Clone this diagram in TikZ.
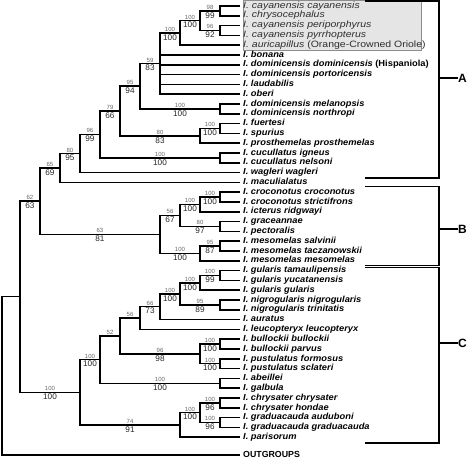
\documentclass[tikz,border=0pt]{standalone}
\usepackage{fontspec}
\setmainfont{Liberation Sans}
\newfontfamily\leaffont[FakeStretch=1.06]{Liberation Sans}
\newfontfamily\boxfont[FakeStretch=1.14]{Liberation Sans}
\usetikzlibrary{calc}
\tikzset{
  br/.style={line width=1.5pt, line join=miter},
  leaf/.style={anchor=west, inner xsep=3pt, inner ysep=0pt, text height=6.3pt, text depth=1.9pt,
    font=\leaffont\fontsize{8.8}{9}\selectfont\bfseries\itshape},
  boxleaf/.style={leaf, font=\boxfont\fontsize{9.2}{9}\selectfont\itshape, text=black!82},
  bsup/.style={font=\fontsize{6}{6}\selectfont, text=black!60, inner sep=0.7pt},
  bsdn/.style={font=\fontsize{8.2}{8}\selectfont, text=black!85, inner sep=0.7pt},
  cladelab/.style={anchor=west, inner sep=0pt, font=\fontsize{12}{12}\selectfont\bfseries},
  hlbox/.style={fill=black!10, draw=black!45, line width=0.8pt},
}
\newcommand\myedge[4]{\draw[br] (#1) |- node[pos=.75,above,bsup]{#3} node[pos=.75,below,bsdn]{#4} (#2);}
\begin{document}
\begin{tikzpicture}[x=1pt,y=-1pt]
\useasboundingbox (0,0) rectangle (474,462);
% highlight box
\coordinate (bx1) at (243,0.5);
\coordinate (bx2) at (421,50);
\draw[hlbox] (bx1) rectangle (bx2);
% leaves
\node[boxleaf] (l0) at (240,6.0) {I. cayanensis cayanensis};
\node[boxleaf] (l1) at (240,15.8) {I. chrysocephalus};
\node[boxleaf] (l2) at (240,25.6) {I. cayanensis periporphyrus};
\node[boxleaf] (l3) at (240,35.4) {I. cayanensis pyrrhopterus};
\node[boxleaf] (l4) at (240,45.2) {I. auricapillus \upshape(Orange-Crowned Oriole)};
\node[leaf] (l5) at (240,55.0) {I. bonana};
\node[leaf] (l6) at (240,64.8) {I. dominicensis dominicensis \upshape(Hispaniola)};
\node[leaf] (l7) at (240,74.6) {I. dominicensis portoricensis};
\node[leaf] (l8) at (240,84.4) {I. laudabilis};
\node[leaf] (l9) at (240,94.2) {I. oberi};
\node[leaf] (l10) at (240,104.0) {I. dominicensis melanopsis};
\node[leaf] (l11) at (240,113.8) {I. dominicensis northropi};
\node[leaf] (l12) at (240,123.6) {I. fuertesi};
\node[leaf] (l13) at (240,133.4) {I. spurius};
\node[leaf] (l14) at (240,143.2) {I. prosthemelas prosthemelas};
\node[leaf] (l15) at (240,153.0) {I. cucullatus igneus};
\node[leaf] (l16) at (240,162.8) {I. cucullatus nelsoni};
\node[leaf] (l17) at (240,172.6) {I. wagleri wagleri};
\node[leaf] (l18) at (240,182.4) {I. maculialatus};
\node[leaf] (l19) at (240,192.2) {I. croconotus croconotus};
\node[leaf] (l20) at (240,202.0) {I. croconotus strictifrons};
\node[leaf] (l21) at (240,211.8) {I. icterus ridgwayi};
\node[leaf] (l22) at (240,221.6) {I. graceannae};
\node[leaf] (l23) at (240,231.4) {I. pectoralis};
\node[leaf] (l24) at (240,241.2) {I. mesomelas salvinii};
\node[leaf] (l25) at (240,251.0) {I. mesomelas taczanowskii};
\node[leaf] (l26) at (240,260.8) {I. mesomelas mesomelas};
\node[leaf] (l27) at (240,270.6) {I. gularis tamaulipensis};
\node[leaf] (l28) at (240,280.4) {I. gularis yucatanensis};
\node[leaf] (l29) at (240,290.2) {I. gularis gularis};
\node[leaf] (l30) at (240,300.0) {I. nigrogularis nigrogularis};
\node[leaf] (l31) at (240,309.8) {I. nigrogularis trinitatis};
\node[leaf] (l32) at (240,319.6) {I. auratus};
\node[leaf] (l33) at (240,329.4) {I. leucopteryx leucopteryx};
\node[leaf] (l34) at (240,339.2) {I. bullockii bullockii};
\node[leaf] (l35) at (240,349.0) {I. bullockii parvus};
\node[leaf] (l36) at (240,358.8) {I. pustulatus formosus};
\node[leaf] (l37) at (240,368.6) {I. pustulatus sclateri};
\node[leaf] (l38) at (240,378.4) {I. abeillei};
\node[leaf] (l39) at (240,388.2) {I. galbula};
\node[leaf] (l40) at (240,398.0) {I. chrysater chrysater};
\node[leaf] (l41) at (240,407.8) {I. chrysater hondae};
\node[leaf] (l42) at (240,417.6) {I. graduacauda auduboni};
\node[leaf] (l43) at (240,427.4) {I. graduacauda graduacauda};
\node[leaf] (l44) at (240,437.2) {I. parisorum};
\node[leaf, font=\fontsize{8.8}{9}\selectfont\bfseries] (og) at (240,455.0) {OUTGROUPS};
% internal nodes
\coordinate (n1) at (220,10.9);
\coordinate (n2) at (220,30.5);
\coordinate (n3) at (200,20.7);
\coordinate (n4) at (180,32.95);
\coordinate (n5) at (160,63.58);
\coordinate (n6) at (220,108.9);
\coordinate (n7) at (140,86.24);
\coordinate (n8) at (220,128.5);
\coordinate (n9) at (200,135.85);
\coordinate (n10) at (120,111.04);
\coordinate (n11) at (220,157.9);
\coordinate (n12) at (100,134.47);
\coordinate (n13) at (80,153.54);
\coordinate (n14) at (60,167.97);
\coordinate (n15) at (220,197.1);
\coordinate (n16) at (200,204.45);
\coordinate (n17) at (220,226.5);
\coordinate (n18) at (180,215.48);
\coordinate (n19) at (220,246.1);
\coordinate (n20) at (200,253.45);
\coordinate (n21) at (160,234.46);
\coordinate (n22) at (40,201.2);
\coordinate (n23) at (220,275.5);
\coordinate (n24) at (200,282.85);
\coordinate (n25) at (220,304.9);
\coordinate (n26) at (180,293.88);
\coordinate (n27) at (160,306.74);
\coordinate (n28) at (140,318.07);
\coordinate (n29) at (220,344.1);
\coordinate (n30) at (220,363.7);
\coordinate (n31) at (200,353.9);
\coordinate (n32) at (120,335.99);
\coordinate (n33) at (220,383.3);
\coordinate (n34) at (100,359.64);
\coordinate (n35) at (220,402.9);
\coordinate (n36) at (220,422.5);
\coordinate (n37) at (200,412.7);
\coordinate (n38) at (180,424.95);
\coordinate (n39) at (80,392.3);
\coordinate (n40) at (20,296.75);
\coordinate (root) at (2,455.0);
% leaf branches
\foreach \p/\c in {n1/l0,n1/l1,n2/l2,n2/l3,n4/l4,n5/l5,n5/l6,n5/l7,n5/l8,n5/l9,
  n6/l10,n6/l11,n8/l12,n8/l13,n9/l14,n11/l15,n11/l16,n13/l17,n14/l18,
  n15/l19,n15/l20,n16/l21,n17/l22,n17/l23,n19/l24,n19/l25,n20/l26,
  n23/l27,n23/l28,n24/l29,n25/l30,n25/l31,n27/l32,n28/l33,
  n29/l34,n29/l35,n30/l36,n30/l37,n33/l38,n33/l39,
  n35/l40,n35/l41,n36/l42,n36/l43,n38/l44}
  {\draw[br] (\p) |- (\c.west);}
% internal branches with support values
\myedge{n3}{n1}{98}{99}
\myedge{n3}{n2}{96}{92}
\myedge{n4}{n3}{100}{100}
\myedge{n5}{n4}{100}{100}
\myedge{n7}{n5}{59}{83}
\myedge{n7}{n6}{100}{100}
\myedge{n10}{n7}{95}{94}
\myedge{n9}{n8}{100}{100}
\myedge{n10}{n9}{80}{83}
\myedge{n12}{n10}{79}{66}
\myedge{n12}{n11}{100}{100}
\myedge{n13}{n12}{96}{99}
\myedge{n14}{n13}{80}{95}
\myedge{n22}{n14}{65}{69}
\myedge{n16}{n15}{100}{100}
\myedge{n18}{n16}{100}{100}
\myedge{n18}{n17}{80}{97}
\myedge{n21}{n18}{56}{67}
\myedge{n20}{n19}{95}{87}
\myedge{n21}{n20}{100}{100}
\myedge{n22}{n21}{63}{81}
\myedge{n40}{n22}{62}{63}
\myedge{n24}{n23}{100}{99}
\myedge{n26}{n24}{100}{100}
\myedge{n26}{n25}{95}{89}
\myedge{n27}{n26}{100}{100}
\myedge{n28}{n27}{66}{73}
\myedge{n32}{n28}{56}{}
\myedge{n31}{n29}{100}{100}
\myedge{n31}{n30}{100}{100}
\myedge{n32}{n31}{96}{98}
\myedge{n34}{n32}{52}{}
\myedge{n34}{n33}{100}{100}
\myedge{n39}{n34}{100}{100}
\myedge{n37}{n35}{100}{96}
\myedge{n37}{n36}{100}{96}
\myedge{n38}{n37}{100}{100}
\myedge{n39}{n38}{74}{91}
\myedge{n40}{n39}{100}{100}
\draw[br] (n40) -| (root) -- (og.west);
% clade brackets
\coordinate (a1) at (365,1); \coordinate (a2) at (439,1);
\coordinate (a3) at (439,178); \coordinate (a4) at (365,178);
\coordinate (at) at (439,78);
\draw[br] (a1) -- (a2) -- (a3) -- (a4);
\node[cladelab] (A) at (458,78) {A};
\draw[br] (at) -- (A.west);
\coordinate (b1) at (365,186.5); \coordinate (b2) at (439,186.5);
\coordinate (b3) at (439,265.5); \coordinate (b4) at (365,265.5);
\coordinate (bt) at (439,229);
\draw[br] (b1) -- (b2) -- (b3) -- (b4);
\node[cladelab] (B) at (458,229) {B};
\draw[br] (bt) -- (B.west);
\coordinate (c1) at (365,267.5); \coordinate (c2) at (439,267.5);
\coordinate (c3) at (439,443); \coordinate (c4) at (365,443);
\coordinate (ct) at (439,343);
\draw[br] (c1) -- (c2) -- (c3) -- (c4);
\node[cladelab] (C) at (458,343) {C};
\draw[br] (ct) -- (C.west);
\end{tikzpicture}
\end{document}
